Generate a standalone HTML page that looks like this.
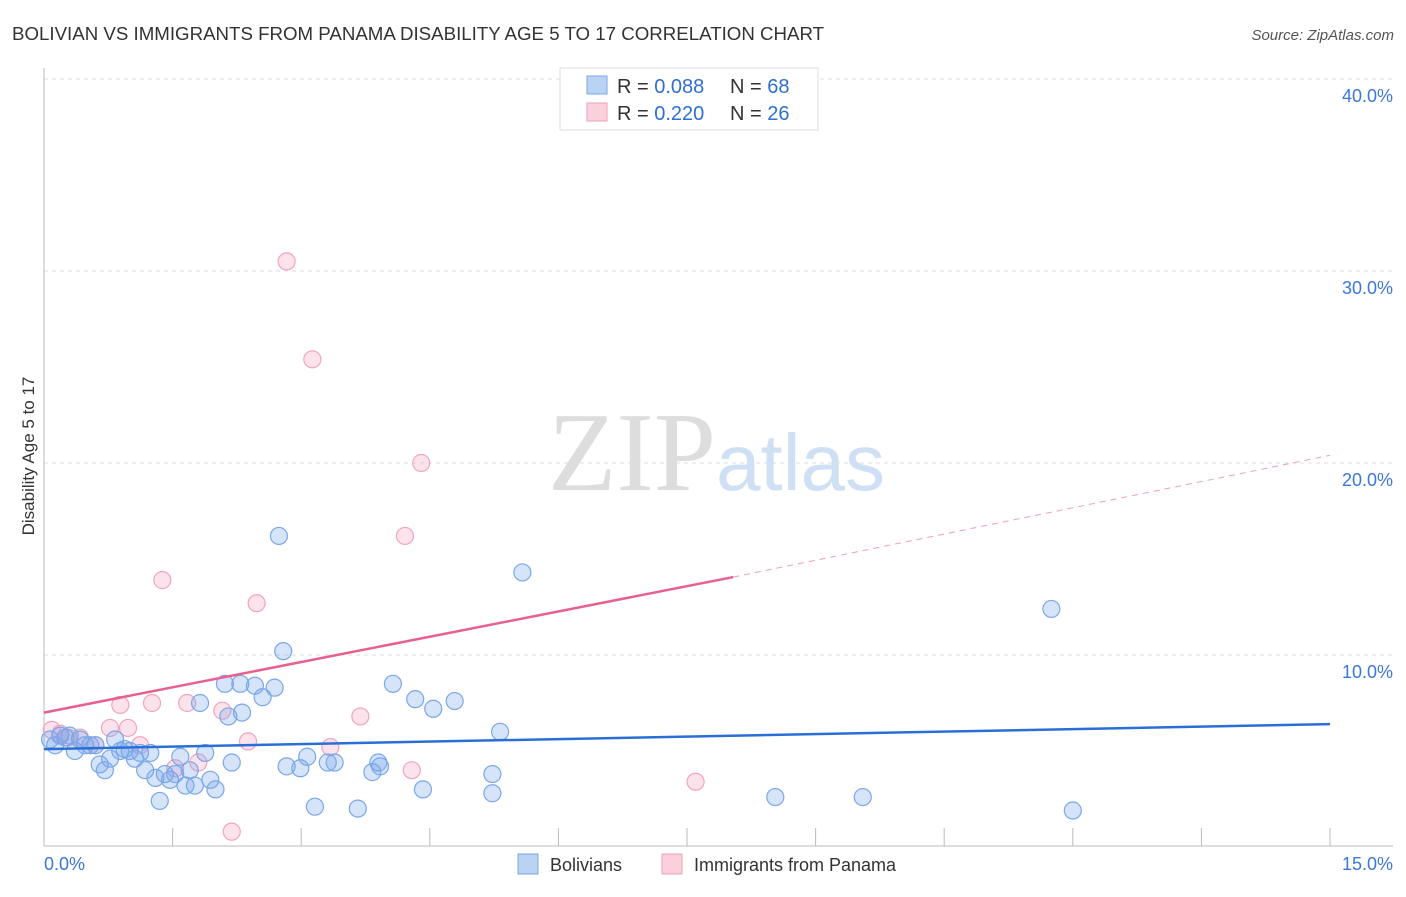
<!DOCTYPE html>
<html><head><meta charset="utf-8"><style>
body{margin:0;background:#fff;font-family:"Liberation Sans",sans-serif;}
</style></head><body>
<svg id="chart" width="1406" height="892" xmlns="http://www.w3.org/2000/svg" style="font-family:'Liberation Sans',sans-serif">
<text x="12" y="40" font-size="18.7" fill="#333">BOLIVIAN VS IMMIGRANTS FROM PANAMA DISABILITY AGE 5 TO 17 CORRELATION CHART</text>
<text x="1394" y="40" font-size="15" fill="#555" font-style="italic" text-anchor="end">Source: ZipAtlas.com</text>
<g id="grid"></g>
<text x="716" y="490" font-size="112" text-anchor="end" fill="#ddd" font-family="'Liberation Serif',serif">ZIP</text>
<text x="716" y="490" font-size="80" fill="#cfe0f5">atlas</text>
<text transform="translate(34,456) rotate(-90)" font-size="17" fill="#333" text-anchor="middle">Disability Age 5 to 17</text>
<g id="marks"></g>
<g>
<rect x="560" y="68" width="258" height="62" fill="#fff" stroke="#ddd"/>
<rect x="587" y="76" width="20" height="18" fill="#b9d3f5" stroke="#7aa7e8"/>
<text x="617" y="93" font-size="20" fill="#333">R = <tspan fill="#2f6fd0">0.088</tspan></text>
<text x="730" y="93" font-size="20" fill="#333">N = <tspan fill="#2f6fd0">68</tspan></text>
<rect x="587" y="103" width="20" height="18" fill="#fbd0dd" stroke="#f0a0bb"/>
<text x="617" y="120" font-size="20" fill="#333">R = <tspan fill="#2f6fd0">0.220</tspan></text>
<text x="730" y="120" font-size="20" fill="#333">N = <tspan fill="#2f6fd0">26</tspan></text>
</g>
<g>
<rect x="518" y="854" width="20" height="20" fill="#b9d3f5" stroke="#7aa7e8"/>
<text x="550" y="871" font-size="18" fill="#333">Bolivians</text>
<rect x="662" y="854" width="20" height="20" fill="#fbd0dd" stroke="#f0a0bb"/>
<text x="694" y="871" font-size="18" fill="#333">Immigrants from Panama</text>
</g>
</svg>
<script>
const xTicks=[0,1.5,3,4.5,6,7.5,9,10.5,12,13.5,15];
const yTicks=[10,20,30,40];
const yTickLabels=["10.0%","20.0%","30.0%","40.0%"];
const blueX=[0.07,0.13,0.19,0.25,0.30,0.36,0.42,0.48,0.54,0.60,0.65,0.71,0.77,0.83,0.89,0.94,1.00,1.06,1.12,1.18,1.24,1.30,1.35,1.41,1.47,1.53,1.59,1.65,1.70,1.76,1.82,1.88,1.94,2.00,2.11,2.15,2.19,2.29,2.31,2.46,2.55,2.69,2.79,2.74,2.83,2.99,3.07,3.16,3.31,3.39,3.66,3.83,3.90,3.92,4.07,4.33,4.42,4.54,4.79,5.23,5.23,5.32,5.58,8.53,9.55,11.75,12.0];
const blueY=[5.6,5.3,5.8,5.7,5.8,5.0,5.6,5.3,5.3,5.3,4.3,4.0,4.6,5.6,5.0,5.1,5.0,4.6,4.9,4.0,4.9,3.6,2.4,3.8,3.5,3.8,4.7,3.2,4.0,3.2,7.5,4.9,3.5,3.0,8.5,6.8,4.4,8.5,7.0,8.4,7.8,8.3,10.2,16.2,4.2,4.1,4.7,2.1,4.4,4.4,2.0,3.9,4.4,4.2,8.5,7.7,3.0,7.2,7.6,3.8,2.8,6.0,14.3,2.6,2.6,12.4,1.9];
const pinkX=[0.09,0.19,0.28,0.42,0.60,0.77,0.89,0.98,1.12,1.26,1.38,1.53,1.67,1.80,2.08,2.19,2.38,2.48,2.83,3.13,3.34,3.69,4.21,4.29,4.40,7.60];
const pinkY=[6.1,5.9,5.7,5.7,5.3,6.2,7.4,6.2,5.3,7.5,13.9,4.1,7.5,4.4,7.1,0.8,5.5,12.7,30.5,25.4,5.2,6.8,16.2,4.0,20.0,3.4];
const blueLine=[[0,5.1],[15,6.4]];
const pinkSolid=[[0,7.0],[8.04,14.06]];
const pinkDash=[[8.04,14.06],[15,20.4]];
const NS="http://www.w3.org/2000/svg";
const sx=v=>44+v/15*1286, sy=v=>847-v*19.2;
const grid=document.getElementById('grid'), marks=document.getElementById('marks');
function mk(tag,attrs,parent){const e=document.createElementNS(NS,tag);for(const k in attrs)e.setAttribute(k,attrs[k]);parent.appendChild(e);return e;}
yTicks.forEach((t,i)=>{
 const l=mk('line',{x1:44,x2:1393,y1:sy(t),y2:sy(t),stroke:'#ddd','stroke-dasharray':'4,4'},grid);
 
 
 const tx=mk('text',{x:1393,y:sy(t)+23,'font-size':18,fill:'#3a78d6','text-anchor':'end'},grid);
 tx.textContent=yTickLabels[i];
 
 
});
const topGrid=mk('line',{x1:44,x2:1393,y1:79,y2:79,stroke:'#ddd','stroke-dasharray':'4,4'},grid);


const ya=mk('line',{x1:44,x2:44,y1:68,y2:846,stroke:'#bbb'},grid);


const xa=mk('line',{x1:44,x2:1393,y1:846,y2:846,stroke:'#bbb'},grid);


xTicks.forEach(t=>{const l=mk('line',{x1:sx(t),x2:sx(t),y1:828,y2:846,stroke:'#bbb'},grid);
 
 });
const xl0=mk('text',{x:44,y:870,'font-size':18,fill:'#3a78d6'},grid);xl0.textContent='0.0%';


const xl1=mk('text',{x:1393,y:870,'font-size':18,fill:'#3a78d6','text-anchor':'end'},grid);xl1.textContent='15.0%';


pinkX.forEach((x,i)=>{const c=mk('circle',{cx:sx(x),cy:sy(pinkY[i]),r:8.5,fill:'rgba(244,160,190,0.3)',stroke:'#f0a5be','stroke-width':1.2},marks);
 
 });
blueX.forEach((x,i)=>{const c=mk('circle',{cx:sx(x),cy:sy(blueY[i]),r:8.5,fill:'rgba(120,165,235,0.3)',stroke:'#7aa7e8','stroke-width':1.2},marks);
 
 });
const bl=mk('line',{x1:sx(blueLine[0][0]),y1:sy(blueLine[0][1]),x2:sx(blueLine[1][0]),y2:sy(blueLine[1][1]),stroke:'#2a6fd6','stroke-width':2.5},marks);


const ps=mk('line',{x1:sx(pinkSolid[0][0]),y1:sy(pinkSolid[0][1]),x2:sx(pinkSolid[1][0]),y2:sy(pinkSolid[1][1]),stroke:'#e8608f','stroke-width':2.5},marks);


const pd=mk('line',{x1:sx(pinkDash[0][0]),y1:sy(pinkDash[0][1]),x2:sx(pinkDash[1][0]),y2:sy(pinkDash[1][1]),stroke:'#eda0b8','stroke-width':1,'stroke-dasharray':'6,5'},marks);


</script>
</body></html>
